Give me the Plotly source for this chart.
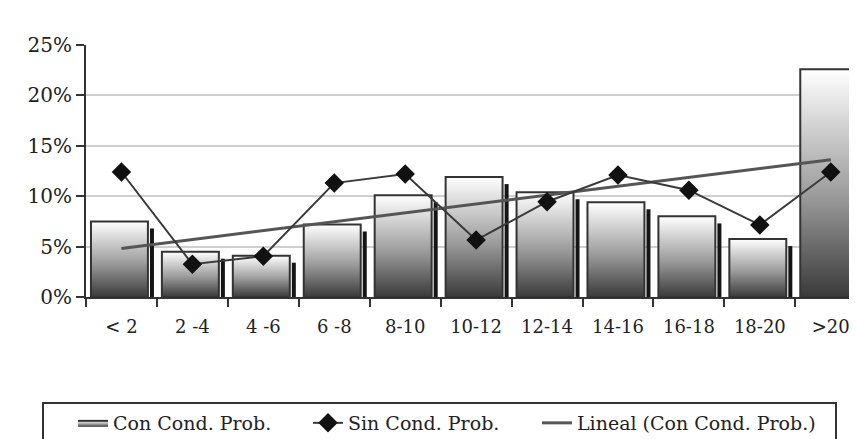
import numpy as np
import plotly.graph_objects as go

categories = ["< 2", "2 -4", "4 -6", "6 -8", "8-10", "10-12", "12-14", "14-16", "16-18", "18-20", ">20"]
con_cond = [7.5, 4.5, 4.1, 7.2, 10.1, 11.9, 10.4, 9.4, 8.0, 5.75, 22.6]
sin_cond = [12.4, 3.25, 4.05, 11.3, 12.2, 5.65, 9.45, 12.1, 10.6, 7.15, 12.4]
y_ticks = [0, 5, 10, 15, 20, 25]
y_tick_labels = ["0%", "5%", "10%", "15%", "20%", "25%"]

SERIF = "DejaVu Serif"
pos = list(range(1, len(categories) + 1))

# page body has an 8px margin; figure is sized so the plot sits where the reference has it
OFF = 8
PL, PR, PT, PB = 86, 857, 45, 297   # absolute plot-area edges in the window
W, H = 857 - OFF, 439 - OFF
PW, PH = PR - PL, PB - PT


def px(X):
    return (X - PL) / PW


def py(Y):
    return (PB - Y) / PH


fig = go.Figure()

grad = dict(type="vertical", colorscale=[[0, "#3a3a3a"], [0.45, "#9c9c9c"], [1, "#ffffff"]])
for i, (p, v) in enumerate(zip(pos, con_cond)):
    left, right = p - 0.43, p + 0.373
    fig.add_trace(go.Scatter(
        x=[left, right, right, left, left], y=[0, 0, v, v, 0],
        mode="lines", fill="toself", fillgradient=grad,
        line=dict(color="#333333", width=2),
        name="Con Cond. Prob.", legendgroup="con", showlegend=(i == 0),
        legend="legend", hoverinfo="skip"))

# right-side shadows of bars
sx, sy = [], []
for p, v in zip(pos, con_cond):
    sx += [p + 0.43, p + 0.43, None]
    sy += [0, v - 0.7, None]
fig.add_trace(go.Scatter(x=sx, y=sy, mode="lines", line=dict(color="#151515", width=4),
                         showlegend=False, hoverinfo="skip"))

# linear trend of Con Cond. Prob.
slope, intercept = np.polyfit(pos, con_cond, 1)
fig.add_trace(go.Scatter(
    x=[pos[0], pos[-1]], y=[slope * pos[0] + intercept, slope * pos[-1] + intercept],
    mode="lines", line=dict(color="#555555", width=3),
    name="Lineal (Con Cond. Prob.)", legend="legend3"))

fig.add_trace(go.Scatter(
    x=pos, y=sin_cond, mode="lines+markers",
    line=dict(color="#3a3a3a", width=2),
    marker=dict(symbol="diamond", size=15, color="#111111"),
    name="Sin Cond. Prob.", legend="legend2"))

# legend frame
fig.add_shape(type="rect", xref="paper", yref="paper",
              x0=px(43), x1=px(836), y0=py(455), y1=py(403),
              line=dict(color="#333333", width=2), fillcolor="rgba(0,0,0,0)", layer="above")

leg_common = dict(orientation="h", xanchor="left", yanchor="top", y=py(404),
                  borderwidth=0, bgcolor="rgba(0,0,0,0)", itemwidth=30,
                  font=dict(family=SERIF, size=19, color="#222222"))

fig.update_layout(
    width=W, height=H,
    margin=dict(l=PL - OFF, r=0, t=PT - OFF, b=H - (PB - OFF), autoexpand=False),
    paper_bgcolor="white", plot_bgcolor="white",
    font=dict(family=SERIF, color="#222222"),
    showlegend=True,
    legend=dict(x=px(73), **leg_common),
    legend2=dict(x=px(308), **leg_common),
    legend3=dict(x=px(537), **leg_common),
    xaxis=dict(range=[0.5, 11.37], tickvals=pos, ticktext=categories, automargin=False,
               ticks="outside", ticklen=12, tickcolor="rgba(0,0,0,0)",
               tickfont=dict(family=SERIF, size=18, color="#222222"),
               showgrid=False, zeroline=False, showline=True, linecolor="#333333", linewidth=2,
               minor=dict(tickvals=[p + 0.5 for p in [0] + pos], ticks="outside", ticklen=8,
                          tickcolor="#333333", tickwidth=2, showgrid=False)),
    yaxis=dict(range=[0, 25], tickvals=y_ticks, ticktext=y_tick_labels, automargin=False,
               ticks="outside", ticklen=8, tickcolor="#333333", tickwidth=2,
               tickfont=dict(family=SERIF, size=20, color="#222222"),
               showgrid=True, gridcolor="#cfcfcf", gridwidth=2,
               zeroline=False, showline=True, linecolor="#333333", linewidth=2),
)

fig.write_html("out.html")
